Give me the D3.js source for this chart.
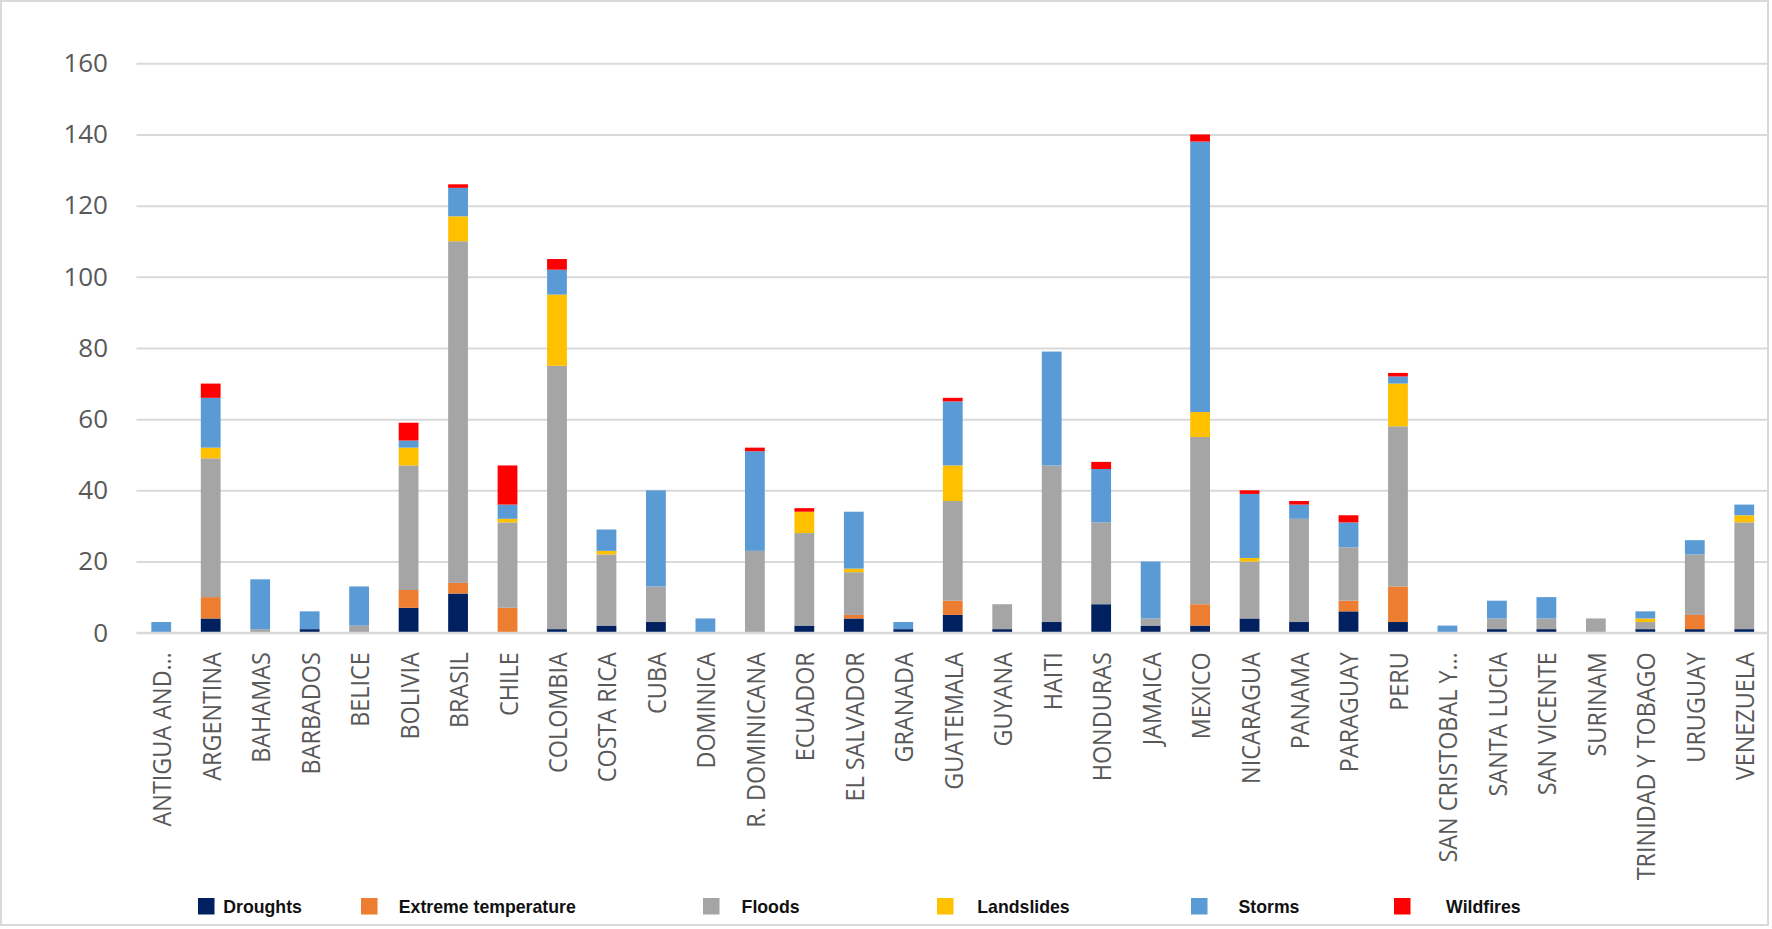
<!DOCTYPE html>
<html>
<head>
<meta charset="utf-8">
<script src="https://cdn.jsdelivr.net/npm/d3@7"></script>
<style>
  html, body { margin: 0; padding: 0; background: #fff; }
  svg { display: block; }
</style>
</head>
<body>
<svg id="chart" width="1772" height="929"></svg>
<script>
const countries = ["ANTIGUA AND…","ARGENTINA","BAHAMAS","BARBADOS","BELICE","BOLIVIA","BRASIL","CHILE","COLOMBIA","COSTA RICA","CUBA","DOMINICA","R. DOMINICANA","ECUADOR","EL SALVADOR","GRANADA","GUATEMALA","GUYANA","HAITI","HONDURAS","JAMAICA","MEXICO","NICARAGUA","PANAMA","PARAGUAY","PERU","SAN CRISTOBAL Y…","SANTA LUCIA","SAN VICENTE","SURINAM","TRINIDAD Y TOBAGO","URUGUAY","VENEZUELA"];
const droughts    = [0,4,0,1,0,7,11,0,1,2,3,0,0,2,4,1,5,1,3,8,2,2,4,3,6,3,0,1,1,0,1,1,1];
const extremeTemp = [0,6,0,0,0,5,3,7,0,0,0,0,0,0,1,0,4,0,0,0,0,6,0,0,3,10,0,0,0,0,0,4,0];
const floods      = [0,39,1,0,2,35,96,24,74,20,10,0,23,26,12,0,28,7,44,23,2,47,16,29,15,45,0,3,3,4,2,17,30];
const landslides  = [0,3,0,0,0,5,7,1,20,1,0,0,0,6,1,0,10,0,0,0,0,7,1,0,0,12,0,0,0,0,1,0,2];
const storms      = [3,14,14,5,11,2,8,4,7,6,27,4,28,0,16,2,18,0,32,15,16,76,18,4,7,2,2,5,6,0,2,4,3];
const wildfires   = [0,4,0,0,0,5,1,11,3,0,0,0,1,1,0,0,1,0,0,2,0,2,1,1,2,1,0,0,0,0,0,0,0];
const seriesNames = ["Droughts","Extreme temperature","Floods","Landslides","Storms","Wildfires"];
const seriesColors = ["#002060","#ED7D31","#A5A5A5","#FFC000","#5B9BD5","#FF0000"];
const yTicks = [0,20,40,60,80,100,120,140,160];

const seriesValues = [droughts, extremeTemp, floods, landslides, storms, wildfires];
const table = countries.map((c, i) => {
  const row = { country: c };
  seriesNames.forEach((s, k) => row[s] = seriesValues[k][i]);
  return row;
});

const svg = d3.select("#chart");
const plot = { left: 136.5, right: 1769, top: 63.3, bottom: 632.7 };

// outer frame
svg.append("rect").attr("x", 1).attr("y", 1).attr("width", 1767).attr("height", 924)
  .attr("fill", "#fff").attr("stroke", "#d9d9d9").attr("stroke-width", 2);

const x = d3.scaleBand().domain(countries).range([plot.left, plot.right])
  .paddingInner(0.6).paddingOuter(0.3);
const y = d3.scaleLinear().domain([0, 160]).range([plot.bottom, plot.top]);

// y axis with gridlines
const yAxis = d3.axisLeft(y).tickValues(yTicks)
  .tickSize(-(plot.right - plot.left - 1)).tickPadding(28.5);
const gy = svg.append("g").attr("transform", `translate(${plot.left},0)`).call(yAxis);
gy.select(".domain").remove();
gy.selectAll(".tick line").attr("stroke", "#d9d9d9").attr("stroke-width", 2);
gy.selectAll(".tick text").attr("fill", "#595959")
  .style("font-family", "'Open Sans', sans-serif").style("font-size", "26px");

// stacked bars
const stack = d3.stack().keys(seriesNames);
const stacked = stack(table);
svg.append("g").selectAll("g").data(stacked).join("g")
  .attr("fill", (d, i) => seriesColors[i])
  .selectAll("rect").data(d => d).join("rect")
  .attr("x", d => x(d.data.country))
  .attr("width", x.bandwidth())
  .attr("y", d => y(d[1]))
  .attr("height", d => Math.max(0, y(d[0]) - y(d[1])));

// x axis line
svg.append("line").attr("x1", plot.left).attr("x2", plot.right - 1)
  .attr("y1", y(0)).attr("y2", y(0)).attr("stroke", "#d9d9d9").attr("stroke-width", 2);

// x labels rotated
const gx = svg.append("g");
gx.selectAll("text").data(countries).join("text")
  .attr("transform", d => `translate(${x(d) + x.bandwidth() / 2},${plot.bottom + 19.5}) rotate(-90) scale(0.9,1)`)
  .attr("text-anchor", "end")
  .attr("dominant-baseline", "central")
  .attr("fill", "#595959")
  .style("font-family", "'Open Sans', sans-serif")
  .style("font-size", "26px")
  .text(d => d);

// legend
const legendMarkerX = [198, 361, 703, 937, 1191, 1394];
const legendTextX = [223.3, 398.8, 741.6, 977.3, 1238.5, 1446.1];
const lg = svg.append("g");
seriesNames.forEach((s, i) => {
  lg.append("rect").attr("x", legendMarkerX[i]).attr("y", 898)
    .attr("width", 16.5).attr("height", 16.5).attr("fill", seriesColors[i]);
  lg.append("text")
    .attr("x", legendTextX[i]).attr("y", 912.5)
    .attr("fill", "#111")
    .style("font-family", "'Liberation Sans', Arial, sans-serif")
    .style("font-weight", "bold")
    .style("font-size", "17.7px")
    .text(s);
});
</script>
</body>
</html>
